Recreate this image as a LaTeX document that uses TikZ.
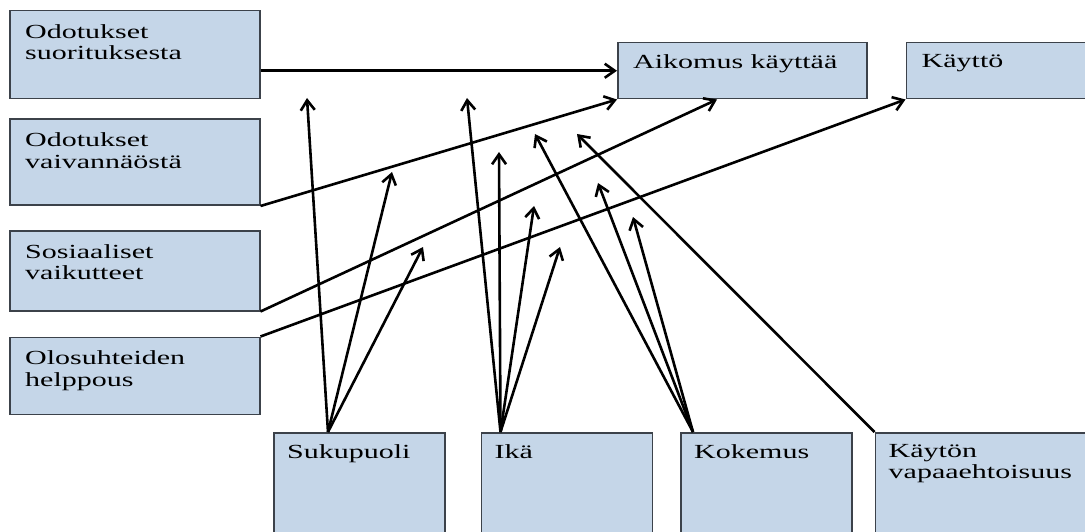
\documentclass[tikz,border=0pt]{standalone}
\usepackage{fontspec}
\setmainfont{Liberation Serif}[FakeStretch=1.5]
\usetikzlibrary{arrows.meta,positioning,calc}
\definecolor{boxblue}{RGB}{197,214,232}
\definecolor{boxedge}{RGB}{60,66,74}
\tikzset{
  box/.style={
    rectangle, draw=boxedge, line width=1.5pt, fill=boxblue,
    anchor=north west, inner sep=0pt
  },
  boxL/.style={box, minimum width=250pt},
  boxB/.style={box, minimum width=171pt, minimum height=120pt},
  txt/.style={
    anchor=north west, align=left, inner sep=0pt,
    font=\fontsize{20}{21.5}\selectfont
  },
  arr/.style={-{Straight Barb[length=10pt, width=14pt]}, line width=2.6pt},
  ln/.style={line width=2.6pt}
}
\begin{document}
\begin{tikzpicture}[x=1pt, y=-1pt]
  \clip (0,0) rectangle (1085,532);
  \fill[white] (0,0) rectangle (1085,532);

  \node[boxL, minimum height=88pt] (suor) at (9,10) {};
  \node[boxL, minimum height=86pt, below=19pt of suor] (vaiv) {};
  \node[boxL, minimum height=80pt, below=24pt of vaiv] (sos) {};
  \node[boxL, minimum height=77pt, below=25pt of sos] (olo) {};

  \node[box, minimum width=249pt, minimum height=56pt] (aik) at (617,42) {};
  \node[box, minimum width=200pt, minimum height=56pt, right=38pt of aik] (kay) {};

  \node[boxB] (suku) at (273,432) {};
  \node[boxB, right=35pt of suku] (ika) {};
  \node[boxB, right=27pt of ika] (kok) {};
  \node[boxB, minimum width=240pt, right=22pt of kok] (vap) {};

  \node[txt] (suorT) at ($(suor.north west)+(16,14)$) {Odotukset\\suorituksesta};
  \node[txt] (vaivT) at ($(vaiv.north west)+(16,14)$) {Odotukset\\vaivannäöstä};
  \node[txt] (sosT) at ($(sos.north west)+(16,14)$) {Sosiaaliset\\vaikutteet};
  \node[txt] (oloT) at ($(olo.north west)+(16,14)$) {Olosuhteiden\\helppous};
  \node[txt] (aikT) at ($(aik.north west)+(16,12)$) {Aikomus käyttää};
  \node[txt] (kayT) at ($(kay.north west)+(16,12)$) {Käyttö};
  \node[txt] (sukuT) at ($(suku.north west)+(14,12)$) {Sukupuoli};
  \node[txt] (ikaT) at ($(ika.north west)+(14,12)$) {Ikä};
  \node[txt] (kokT) at ($(kok.north west)+(14,12)$) {Kokemus};
  \node[txt] (vapT) at ($(vap.north west)+(14,12)$) {Käytön\\vapaaehtoisuus};

  \coordinate (suO) at ($(suku.north west)+(55,0)$);
  \coordinate (ikO) at ($(ika.north west)+(20,0)$);
  \coordinate (koO) at ($(kok.north west)+(13,0)$);
  \coordinate (su1) at (307,98);
  \coordinate (su2) at (392,172);
  \coordinate (su3) at (423,247);
  \coordinate (ik1) at (467,98);
  \coordinate (ik2) at (499,152);
  \coordinate (ik3) at (534,206);
  \coordinate (ik4) at (560,247);
  \coordinate (ko1) at (535,134);
  \coordinate (ko2) at (598,183);
  \coordinate (ko3) at (633,217);
  \coordinate (va1) at (577,134);

  \draw[arr] (suor.east |- aik.west) -- (aik.west);
  \draw[arr] (vaiv.south east) -- (aik.south west);
  \draw[arr] (sos.south east) -- ($(aik.south west)+(100,0)$);
  \draw[arr] (olo.north east) -- (kay.south west);

  \foreach \t in {su1,su2,su3}
    \draw[arr] (suO) -- (\t);
  \foreach \t in {ik1,ik2,ik3,ik4}
    \draw[arr] (ikO) -- (\t);
  \foreach \t in {ko1,ko2,ko3}
    \draw[arr] (koO) -- (\t);
  \draw[arr] (vap.north west) -- (va1);
\end{tikzpicture}
\end{document}
